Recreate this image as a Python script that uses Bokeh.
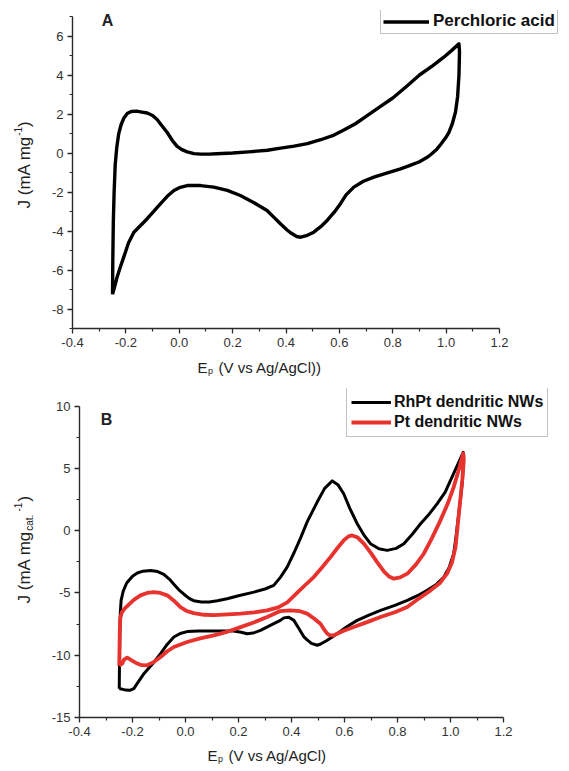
import math
from bokeh.plotting import figure
from bokeh.models import Range1d, FixedTicker, PrintfTickFormatter, Legend, LegendItem, Label
from bokeh.layouts import column, row
from bokeh.embed import file_html
from bokeh.resources import INLINE

# ---------------- data ----------------
# Panel A : Perchloric acid CV (anodic sweep then cathodic sweep)
a_v = [-0.250, -0.249, -0.247, -0.244, -0.240, -0.234, -0.227, -0.218, -0.208, -0.195, -0.180, -0.160,
       -0.140, -0.120, -0.100, -0.083, -0.065, -0.045, -0.025, -0.008, 0.010, 0.030, 0.055, 0.080,
       0.110, 0.140, 0.200, 0.260, 0.330, 0.380, 0.430, 0.480, 0.530, 0.580, 0.620, 0.660, 0.700,
       0.750, 0.800, 0.850, 0.900, 0.950, 0.990, 1.020, 1.048,
       1.050, 1.048, 1.043, 1.035, 1.023, 1.010, 0.998, 0.980, 0.966, 0.945, 0.929, 0.900, 0.860,
       0.829, 0.780, 0.729, 0.690, 0.654, 0.625, 0.604, 0.580, 0.554, 0.530, 0.504, 0.480, 0.455,
       0.440, 0.420, 0.404, 0.379, 0.355, 0.329, 0.280, 0.229, 0.180, 0.129, 0.080, 0.030, 0.000,
       -0.020, -0.045, -0.070, -0.095, -0.120, -0.145, -0.170, -0.190, -0.208, -0.222, -0.233,
       -0.242, -0.250]
a_j = [-7.25, -5.5, -3.5, -2.0, -0.6, 0.3, 0.98, 1.45, 1.78, 2.02, 2.13, 2.15,
       2.10, 2.05, 1.92, 1.72, 1.40, 1.05, 0.62, 0.34, 0.17, 0.06, -0.03, -0.06,
       -0.06, -0.04, 0.00, 0.06, 0.14, 0.25, 0.35, 0.48, 0.68, 0.92, 1.20, 1.50, 1.88,
       2.35, 2.82, 3.40, 4.00, 4.48, 4.90, 5.25, 5.60,
       5.20, 4.0, 2.9, 2.1, 1.5, 1.05, 0.78, 0.45, 0.21, -0.05, -0.22, -0.45, -0.66,
       -0.81, -1.02, -1.24, -1.45, -1.75, -2.15, -2.60, -3.05, -3.46, -3.78, -4.06, -4.22, -4.32,
       -4.28, -4.12, -3.95, -3.63, -3.30, -2.95, -2.55, -2.18, -1.92, -1.75, -1.67, -1.67, -1.78,
       -1.92, -2.22, -2.60, -2.98, -3.37, -3.72, -4.06, -4.60, -5.34, -5.90, -6.37,
       -6.85, -7.25]

# Panel B : RhPt dendritic NWs
rh_v = [-0.250, -0.249, -0.248, -0.246, -0.243, -0.235, -0.222, -0.200, -0.182, -0.160, -0.132, -0.105,
        -0.082, -0.060, -0.044, -0.025, -0.006, 0.015, 0.031, 0.060, 0.090, 0.120, 0.157, 0.200,
        0.258, 0.300, 0.333, 0.358, 0.384, 0.410, 0.434, 0.460, 0.497, 0.525, 0.554, 0.575, 0.597,
        0.620, 0.648, 0.675, 0.698, 0.730, 0.761, 0.795, 0.824, 0.855, 0.887, 0.920, 0.950, 0.980,
        1.000, 1.025, 1.048,
        1.050, 1.045, 1.038, 1.031, 1.022, 1.012, 0.995, 0.975, 0.945, 0.912, 0.875, 0.837, 0.790,
        0.736, 0.690, 0.648, 0.610, 0.572, 0.535, 0.510, 0.497, 0.475, 0.458, 0.446, 0.425, 0.409,
        0.390, 0.371, 0.358, 0.320, 0.283, 0.255, 0.233, 0.210, 0.182, 0.140, 0.106, 0.050, 0.006,
        -0.020, -0.044, -0.070, -0.094, -0.125, -0.157, -0.180, -0.195, -0.210, -0.225, -0.240, -0.250]
rh_j = [-12.7, -10.5, -8.5, -6.6, -5.6, -4.85, -4.20, -3.65, -3.40, -3.25, -3.19, -3.28,
        -3.50, -3.90, -4.30, -4.75, -5.10, -5.45, -5.62, -5.73, -5.72, -5.62, -5.46, -5.22,
        -4.93, -4.68, -4.39, -3.75, -2.90, -1.75, -0.60, 0.75, 2.30, 3.40, 4.00, 3.70, 2.97,
        1.80, 0.56, -0.40, -1.04, -1.45, -1.58, -1.42, -1.04, -0.30, 0.56, 1.35, 2.17, 3.10,
        4.04, 5.20, 6.30,
        6.00, 4.0, 2.6, 1.36, -0.3, -1.85, -2.95, -3.72, -4.35, -4.79, -5.22, -5.60, -6.00,
        -6.40, -6.80, -7.20, -7.70, -8.27, -8.80, -9.10, -9.20, -9.05, -8.75, -8.50, -7.75, -7.20,
        -6.95, -7.00, -7.20, -7.60, -8.00, -8.22, -8.27, -8.15, -8.06, -8.06, -8.06, -8.05, -8.10,
        -8.25, -8.54, -9.15, -9.87, -10.70, -11.48, -12.20, -12.68, -12.82, -12.80, -12.72, -12.70]

# Panel B : Pt dendritic NWs
pt_v = [-0.250, -0.249, -0.248, -0.246, -0.240, -0.230, -0.220, -0.195, -0.170, -0.145, -0.120, -0.095,
        -0.069, -0.045, -0.019, 0.005, 0.031, 0.070, 0.106, 0.160, 0.208, 0.260, 0.308, 0.350,
        0.384, 0.421, 0.450, 0.484, 0.515, 0.547, 0.575, 0.597, 0.615, 0.629, 0.650, 0.673, 0.700,
        0.723, 0.750, 0.770, 0.786, 0.810, 0.837, 0.870, 0.899, 0.930, 0.962, 0.990, 1.012, 1.030,
        1.048,
        1.050, 1.045, 1.038, 1.028, 1.019, 1.005, 0.987, 0.960, 0.925, 0.880, 0.837, 0.790, 0.736,
        0.690, 0.635, 0.595, 0.560, 0.545, 0.535, 0.522, 0.509, 0.485, 0.459, 0.430, 0.396, 0.358,
        0.308, 0.260, 0.208, 0.160, 0.107, 0.055, 0.006, -0.044, -0.070, -0.094, -0.120, -0.145,
        -0.165, -0.182, -0.200, -0.220, -0.232, -0.239, -0.250]
pt_j = [-10.85, -9.5, -8.0, -7.0, -6.55, -6.25, -6.05, -5.55, -5.19, -5.00, -4.93, -5.00,
        -5.19, -5.60, -6.13, -6.45, -6.62, -6.75, -6.78, -6.72, -6.66, -6.55, -6.40, -6.15,
        -5.75, -5.00, -4.40, -3.72, -2.95, -2.12, -1.35, -0.78, -0.45, -0.38, -0.55, -1.04, -1.80,
        -2.52, -3.30, -3.70, -3.85, -3.75, -3.45, -2.70, -1.85, -0.60, 0.83, 2.20, 3.50, 4.80,
        6.20,
        5.60, 4.2, 2.7, 0.6, -1.32, -2.60, -3.45, -4.20, -4.79, -5.45, -6.13, -6.55, -6.93,
        -7.30, -7.74, -8.05, -8.40, -8.40, -8.27, -7.90, -7.47, -7.05, -6.66, -6.45, -6.40, -6.45,
        -6.93, -7.35, -7.74, -8.10, -8.40, -8.65, -8.94, -9.34, -9.70, -10.14, -10.55, -10.81,
        -10.80, -10.67, -10.45, -10.20, -10.35, -10.67, -10.85]

x_ticks = [-0.4, -0.2, 0.0, 0.2, 0.4, 0.6, 0.8, 1.0, 1.2]
x_minor = [-0.3, -0.1, 0.1, 0.3, 0.5, 0.7, 0.9, 1.1]
ya_ticks = [-8, -6, -4, -2, 0, 2, 4, 6]
ya_minor = [-9, -7, -5, -3, -1, 1, 3, 5, 7]
yb_ticks = [-15, -10, -5, 0, 5, 10]
yb_minor = [-12.5, -7.5, -2.5, 2.5, 7.5]

FONT = "Liberation Sans"
AX = "#2a2a2a"
RED = "#e8322d"
TXT = "#222222"

PAGE_W = 569
YT_W = 40          # width of the strip holding the rotated y titles
MAIN_W = PAGE_W - YT_W


def make_panel(height, bl, bt, bb, xr, yr, xb, yb, xt, xm, yt, ym):
    p = figure(width=MAIN_W, height=height, output_backend="svg", toolbar_location=None,
               x_range=Range1d(*xr), y_range=Range1d(*yr),
               min_border_left=bl, min_border_right=0, min_border_top=bt, min_border_bottom=bb)
    p.outline_line_color = None
    p.grid.visible = False
    p.xaxis.bounds = xb
    p.yaxis.bounds = yb
    p.xaxis.ticker = FixedTicker(ticks=xt, minor_ticks=xm)
    p.yaxis.ticker = FixedTicker(ticks=yt, minor_ticks=ym)
    p.xaxis.formatter = PrintfTickFormatter(format="%.1f")
    p.yaxis.formatter = PrintfTickFormatter(format="%d")
    for ax in (p.xaxis[0], p.yaxis[0]):
        ax.axis_line_color = AX
        ax.axis_line_width = 1.4
        ax.major_tick_line_color = AX
        ax.minor_tick_line_color = AX
        ax.major_tick_line_width = 1.3
        ax.minor_tick_line_width = 1.2
        ax.major_tick_in = 0
        ax.major_tick_out = 5
        ax.minor_tick_in = 0
        ax.minor_tick_out = 3
        ax.major_label_text_font = FONT
        ax.major_label_text_font_size = "13px"
        ax.major_label_text_color = "#333333"
        ax.major_label_standoff = 4
    return p


def strip(w, h, bt=0, bb=0, y_top=0, y_bottom=None):
    # blank figure for axis titles; its data units are page pixels (y grows downward)
    if y_bottom is None:
        y_bottom = h
    s = figure(width=w, height=h, output_backend="svg", toolbar_location=None,
               x_range=Range1d(0, w), y_range=Range1d(y_bottom, y_top),
               x_axis_location=None, y_axis_location=None,
               min_border=0, min_border_left=0, min_border_right=0,
               min_border_top=bt, min_border_bottom=bb)
    s.outline_line_color = None
    s.grid.visible = False
    return s


def conv(xr, yr, fl, ft, fr, fb):
    def X(px):
        return xr[0] + (px - fl) * (xr[1] - xr[0]) / (fr - fl)

    def Y(py):
        return yr[1] - (py - ft) * (yr[1] - yr[0]) / (fb - ft)
    return X, Y


def lab(p, x, y, text, size, angle=0.0, bold=False, align="left", baseline="alphabetic"):
    p.add_layout(Label(x=x, y=y, text=text, text_font=FONT, text_font_size=f"{size}px",
                       text_font_style="bold" if bold else "normal", text_color=TXT,
                       angle=angle, text_align=align, text_baseline=baseline))


def vlab(p, base_x, y, text, size):
    # rotated (bottom-to-top) text starting at page y; base_x = alphabetic baseline position
    top_x = base_x - 0.905 * size
    lab(p, top_x, y, text, size, angle=math.pi / 2, align="left", baseline="top")


# ---------------- panel A ----------------
# page geometry (px): main fig x 40..569, y 0..355 ; frame 72..569 x 10..328
A_H = 355
aFL, aFT, aFR, aFB = 72, 10, 569, 328
a_ppx = 266.9   # px per V
a_ppy = 19.5    # px per mA/mg
a_xr = (-0.4, -0.4 + (aFR - aFL) / a_ppx)
a_yr = (-9.0, 7.0 + (16 - aFT) / a_ppy)
pA = make_panel(A_H, aFL - YT_W, aFT, A_H - aFB, a_xr, a_yr, (-0.4, 1.2), (-9, 7),
                x_ticks, x_minor, ya_ticks, ya_minor)
rA = pA.line(a_v, a_j, line_color="black", line_width=3.4, line_join="round")
legA = Legend(items=[LegendItem(label="Perchloric acid", renderers=[rA])],
              location=(380 - aFL, aFB - 11 - 23), margin=0, padding=2, spacing=0,
              glyph_width=46, glyph_height=19, label_height=19, label_standoff=4,
              label_text_font=FONT, label_text_font_style="bold", label_text_font_size="17px",
              label_text_color="#111111",
              border_line_color="#888888", border_line_width=1, background_fill_alpha=1)
pA.add_layout(legA)
XA, YA = conv(a_xr, a_yr, aFL, aFT, aFR, aFB)
lab(pA, XA(107), YA(20), "A", 16, bold=True, align="center", baseline="middle")

# y title strip: frame aligned with pA's frame, data y = page y
ytA = strip(YT_W, A_H, bt=aFT, bb=A_H - aFB, y_top=aFT, y_bottom=aFB)
vlab(ytA, 30, 208, "J (mA mg", 17)
vlab(ytA, 23, 135.3, "-1", 10)
vlab(ytA, 30, 126.4, ")", 17)

XT_A_H = 376 - A_H
xtA = strip(PAGE_W, XT_A_H)
lab(xtA, 197, 367 - A_H, "E", 15)
lab(xtA, 207.5, 370 - A_H, "p", 9)
lab(xtA, 218, 367 - A_H, "(V vs Ag/AgCl))", 15)

# ---------------- panel B ----------------
# page geometry (px): main fig x 40..569, y 376..744 ; frame 79..569 x 388..717
B_TOP = 376
B_H = 368
bFL, bFT, bFR, bFB = 79, 388, 569, 717
b_ppx = 265.0
b_ppy = 12.46
b_xr = (-0.4, -0.4 + (bFR - bFL) / b_ppx)
b_yr = (-15.0, 10.0 + (405.7 - bFT) / b_ppy)
pB = make_panel(B_H, bFL - YT_W, bFT - B_TOP, B_TOP + B_H - bFB, b_xr, b_yr, (-0.4, 1.2), (-15, 10),
                x_ticks, x_minor, yb_ticks, yb_minor)
rRh = pB.line(rh_v, rh_j, line_color="black", line_width=3, line_join="round")
rPt = pB.line(pt_v, pt_j, line_color=RED, line_width=3.8, line_join="round")
legB = Legend(items=[LegendItem(label="RhPt dendritic NWs", renderers=[rRh]),
                     LegendItem(label="Pt dendritic NWs", renderers=[rPt])],
              location=(346 - bFL, bFB - 389 - 48), margin=0, padding=4, spacing=0,
              glyph_width=40, glyph_height=20, label_height=20, label_standoff=3,
              label_text_font=FONT, label_text_font_style="bold", label_text_font_size="16px",
              label_text_color="#111111",
              border_line_color="#888888", border_line_width=1, background_fill_alpha=1)
pB.add_layout(legB)
XB, YB = conv(b_xr, b_yr, bFL, bFT, bFR, bFB)
lab(pB, XB(106), YB(419), "B", 16, bold=True, align="center", baseline="middle")

ytB = strip(YT_W, B_H, bt=bFT - B_TOP, bb=B_TOP + B_H - bFB, y_top=bFT, y_bottom=bFB)
vlab(ytB, 30, 603, "J (mA mg", 17)
vlab(ytB, 33, 530.3, "cat.", 10)
vlab(ytB, 23, 511, "-1", 10)
vlab(ytB, 30, 501, ")", 17)

XT_B_TOP = B_TOP + B_H
XT_B_H = 771 - XT_B_TOP
xtB = strip(PAGE_W, XT_B_H)
lab(xtB, 207, 755 - XT_B_TOP, "E", 15)
lab(xtB, 217.5, 758 - XT_B_TOP, "p", 9)
lab(xtB, 228, 755 - XT_B_TOP, "(V vs Ag/AgCl)", 15)

layout = column(row(ytA, pA, spacing=0), xtA, row(ytB, pB, spacing=0), xtB, spacing=0)
open("out.html", "w").write(file_html(layout, INLINE))
